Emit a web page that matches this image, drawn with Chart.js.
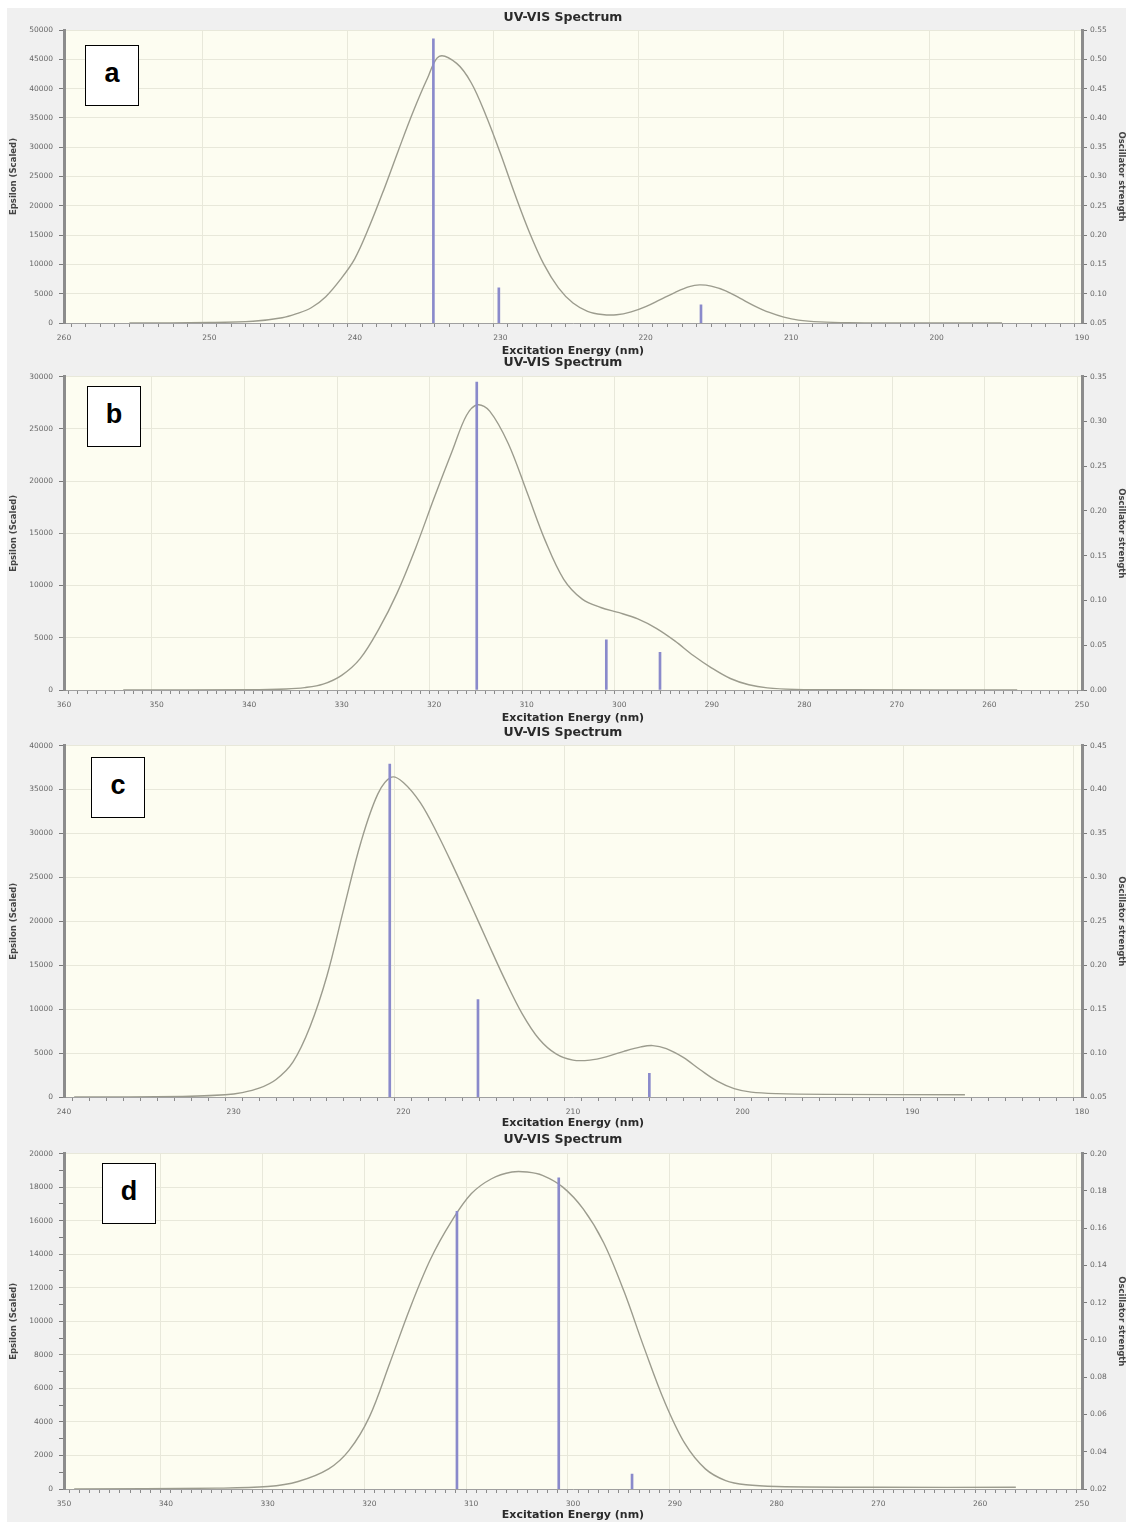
<!DOCTYPE html>
<html>
<head>
<meta charset="utf-8">
<script src="https://cdn.jsdelivr.net/npm/chart.js@4.4.1/dist/chart.umd.min.js"></script>
<style>
  body { margin: 0; background: #fff; width: 1126px; height: 1522px; overflow: hidden; }
  #page { position: absolute; left: 7px; top: 8px; width: 1119px; height: 1514px; background: #f0f0f0; }
  canvas { position: absolute; left: 0; }
  .tag { position: absolute; width: 54px; height: 61px; box-sizing: border-box; background: #fff;
         border: 1.5px solid #000; font: bold 27px "Liberation Sans", Arial, sans-serif;
         display: flex; align-items: center; justify-content: center; padding-bottom: 4px; }
</style>
</head>
<body>
<div id="page"></div>
<canvas id="specA" width="1126" height="358" style="top:0px"></canvas>
<canvas id="specB" width="1126" height="375" style="top:350px"></canvas>
<canvas id="specC" width="1126" height="410" style="top:720px"></canvas>
<canvas id="specD" width="1126" height="395" style="top:1127px"></canvas>
<div class="tag" style="left:85px; top:45px">a</div>
<div class="tag" style="left:87px; top:386px">b</div>
<div class="tag" style="left:91px; top:757px">c</div>
<div class="tag" style="left:102px; top:1163px">d</div>
<script>
// panel a
var aRange = [190, 260];
var aEpsAxis = [0, 50000, 5000, 5000];
var aOscAxis = [0.05, 0.55, 0.05];
var aNm  = [255.5, 250, 247, 245, 244, 243, 242, 241, 240, 239, 238, 237, 236, 235, 234.2, 233, 232, 231, 230, 229, 228, 227, 226, 225, 224, 223, 222, 221, 220, 219, 218, 217, 216.3, 215.5, 214.5, 213.5, 212.5, 211.5, 210.5, 209.5, 208, 206, 203, 195.5];
var aEps = [0, 80, 300, 900, 1600, 2600, 4500, 7400, 11000, 16500, 22800, 29500, 36000, 41800, 45500, 44300, 41000, 35500, 29000, 22000, 15500, 10000, 6000, 3400, 2000, 1450, 1400, 1900, 2800, 4000, 5200, 6200, 6500, 6300, 5500, 4200, 2900, 1800, 1000, 500, 200, 60, 20, 0];
var aStickNm = [234.6, 230.1, 216.2];
var aStickF  = [0.535, 0.11, 0.081];

// panel b
var bRange = [250, 360];
var bEpsAxis = [0, 30000, 5000, 5000];
var bOscAxis = [0, 0.35, 0.05];
var bNm  = [353.6, 340, 336, 334, 332, 330, 328, 326, 324, 322, 320, 318, 316.5, 315.3, 314, 312, 310, 308, 306, 304, 302, 300, 298, 296, 294, 292, 290, 288, 286, 284, 281, 275, 257];
var bEps = [0, 30, 100, 230, 560, 1400, 3000, 5800, 9300, 13600, 18400, 23000, 26300, 27300, 26700, 23600, 19000, 14300, 10600, 8700, 7900, 7400, 6800, 5900, 4700, 3300, 2100, 1100, 500, 200, 60, 20, 0];
var bStickNm = [315.4, 301.4, 295.6];
var bStickF  = [0.344, 0.056, 0.042];

// panel c
var cRange = [180, 240];
var cEpsAxis = [0, 40000, 5000, 5000];
var cOscAxis = [0.05, 0.45, 0.05];
var cNm  = [239.4, 233, 230.5, 229.5, 228.5, 227.5, 226.5, 225.5, 224.5, 223.5, 222.5, 221.5, 220.7, 220, 219, 218, 217, 216, 215, 214, 213, 212, 211, 210, 209, 208, 207, 206, 205.3, 204.5, 203.5, 202.5, 201.5, 200.5, 199.5, 198, 195, 186.9];
var cEps = [0, 60, 250, 500, 1000, 2000, 4000, 8000, 13800, 21500, 29000, 34500, 36400, 35800, 33500, 30000, 26000, 21800, 17500, 13300, 9500, 6600, 4900, 4200, 4200, 4600, 5200, 5700, 5850, 5500, 4500, 3100, 1800, 950, 550, 380, 300, 250];
var cStickNm = [220.8, 215.6, 205.5];
var cStickF  = [0.429, 0.161, 0.077];

// panel d
var dRange = [250, 350];
var dEpsAxis = [0, 20000, 2000, 1000];
var dOscAxis = [0.02, 0.20, 0.02];
var dNm  = [349, 335, 330, 327, 324, 322, 320, 318, 316, 314, 312, 310, 308, 306, 304.5, 303, 301, 299, 297, 295, 293, 291, 289, 287, 285, 283, 280, 270, 256.5];
var dEps = [0, 50, 150, 450, 1200, 2300, 4300, 7500, 10800, 13700, 15900, 17600, 18500, 18900, 18900, 18700, 18000, 16700, 14700, 11800, 8400, 5200, 2700, 1200, 500, 250, 150, 100, 100];
var dStickNm = [311.4, 301.4, 294.2];
var dStickF  = [0.169, 0.187, 0.028];

var GRID = '#e8e8da';
var AXIS = '#8c8c8c';
var TICK_FONT = { family: 'DejaVu Sans', size: 7.5 };
var TICK_COLOR = '#666';

// cream plot area behind the grid
var plotBg = {
  id: 'plotBg',
  beforeDraw: function (chart) {
    var ctx = chart.ctx, a = chart.chartArea;
    ctx.save();
    ctx.fillStyle = '#fdfdf1';
    ctx.fillRect(a.left, a.top, a.right - a.left, a.bottom - a.top);
    ctx.restore();
  }
};

function spectrum(id, range, epsAxis, oscAxis, nm, eps, stickNm, stickF, titlePad, xHeight) {
  var curve = nm.map(function (x, i) { return { x: x, y: eps[i] }; });
  var sticks = stickNm.map(function (x, i) { return { x: x, y: stickF[i] }; });
  var major = function (v, step) { return Math.abs(v / step - Math.round(v / step)) < 1e-6; };

  return new Chart(document.getElementById(id), {
    type: 'line',
    data: {
      datasets: [{
        type: 'bar',
        data: sticks,
        yAxisID: 'yf',
        backgroundColor: '#8a8acb',
        barThickness: 2,
        grouped: false
      }, {
        type: 'line',
        data: curve,
        yAxisID: 'y',
        borderColor: '#9c9c8e',
        borderWidth: 1.4,
        pointRadius: 0,
        tension: 0.35,
        fill: false
      }]
    },
    options: {
      responsive: false,
      animation: false,
      devicePixelRatio: 1,
      layout: { padding: 0 },
      plugins: {
        legend: { display: false },
        tooltip: { enabled: false },
        title: {
          display: true,
          text: 'UV-VIS Spectrum',
          color: '#2a2a2a',
          font: { family: 'DejaVu Sans', size: 12.5, weight: 'bold' },
          padding: titlePad
        }
      },
      scales: {
        x: {
          type: 'linear',
          reverse: true,
          min: range[0],
          max: range[1],
          offset: false,
          ticks: {
            stepSize: 1,
            autoSkip: false,
            maxRotation: 0,
            padding: 7,
            font: TICK_FONT,
            color: TICK_COLOR,
            callback: function (v) { return major(v, 10) ? String(v) : ''; }
          },
          grid: {
            color: function (c) { return c.tick && major(c.tick.value, 10) ? GRID : 'rgba(0,0,0,0)'; },
            tickColor: '#8a8a8a',
            tickLength: 4
          },
          border: { color: '#a0a0a0', width: 1 },
          title: {
            display: true,
            text: 'Excitation Energy (nm)',
            color: '#2a2a2a',
            font: { family: 'DejaVu Sans', size: 11, weight: 'bold' },
            padding: 0
          },
          afterFit: function (s) { s.height = xHeight; }
        },
        y: {
          type: 'linear',
          position: 'left',
          min: epsAxis[0],
          max: epsAxis[1],
          ticks: {
            stepSize: epsAxis[3],
            autoSkip: false,
            padding: 6,
            font: TICK_FONT,
            color: TICK_COLOR,
            callback: function (v) { return major(v, epsAxis[2]) ? String(v) : ''; }
          },
          grid: {
            color: function (c) { return c.tick && major(c.tick.value, epsAxis[2]) ? GRID : 'rgba(0,0,0,0)'; },
            tickColor: '#7a7a7a',
            tickLength: 5
          },
          border: { color: AXIS, width: 3 },
          title: {
            display: true,
            text: 'Epsilon (Scaled)',
            color: '#444',
            font: { family: 'DejaVu Sans', size: 8.5, weight: 'bold' },
            padding: { top: 9 }
          },
          afterFit: function (s) { s.width = 64; }
        },
        yf: {
          type: 'linear',
          position: 'right',
          min: oscAxis[0],
          max: oscAxis[1],
          ticks: {
            stepSize: oscAxis[2],
            padding: 3,
            font: TICK_FONT,
            color: TICK_COLOR,
            callback: function (v) { return v.toFixed(2); }
          },
          grid: { drawOnChartArea: false, tickColor: '#7a7a7a', tickLength: 5 },
          border: { color: AXIS, width: 3 },
          title: {
            display: true,
            text: 'Oscillator strength',
            color: '#444',
            font: { family: 'DejaVu Sans', size: 8.5, weight: 'bold' },
            padding: { top: 0 }
          },
          afterFit: function (s) { s.width = 44; }
        }
      }
    },
    plugins: [plotBg]
  });
}

document.addEventListener('DOMContentLoaded', function () {
  spectrum('specA', aRange, aEpsAxis, aOscAxis, aNm, aEps, aStickNm, aStickF, { top: 10, bottom: 5 }, 35);
  spectrum('specB', bRange, bEpsAxis, bOscAxis, bNm, bEps, bStickNm, bStickF, { top: 4.8, bottom: 6.8 }, 35);
  spectrum('specC', cRange, cEpsAxis, cOscAxis, cNm, cEps, cStickNm, cStickF, { top: 4.8, bottom: 5.8 }, 33);
  spectrum('specD', dRange, dEpsAxis, dOscAxis, dNm, dEps, dStickNm, dStickF, { top: 4.8, bottom: 6.8 }, 33);
});
</script>
</body>
</html>
